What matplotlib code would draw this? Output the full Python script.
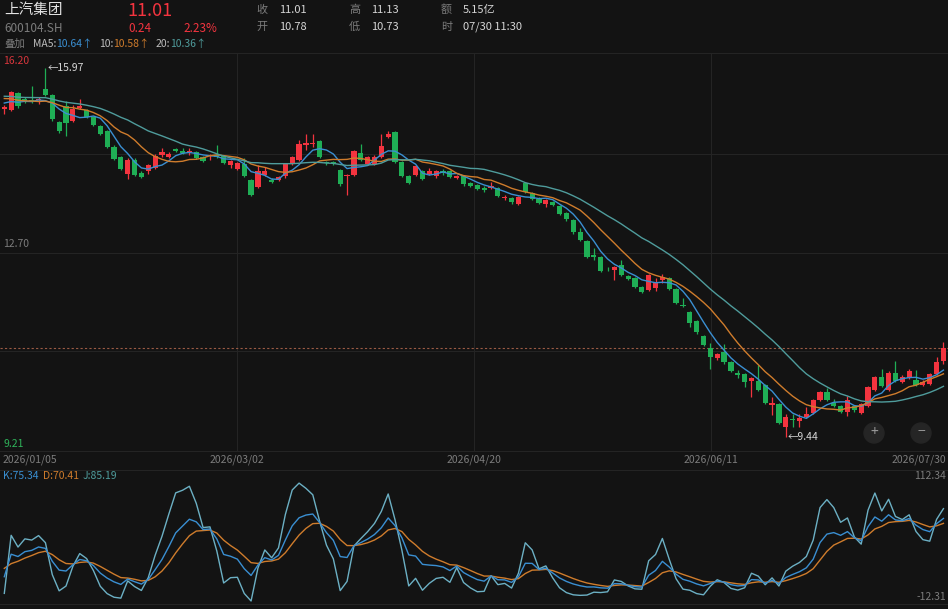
import matplotlib
matplotlib.use("Agg")
import matplotlib.pyplot as plt
from matplotlib.lines import Line2D
from matplotlib.patches import Ellipse
import numpy as np
import pandas as pd

plt.rcParams['font.family'] = ['Noto Sans CJK SC', 'DejaVu Sans']

# sessions before the first shown one, only used to warm up MA and KDJ
warmup_close = [15.62, 15.55, 15.48, 15.40, 15.45, 15.52, 15.58, 15.50, 15.47, 15.53,
                15.60, 15.55, 15.48, 15.42, 15.50, 15.42, 15.35, 15.30, 15.40]
warmup_high = [15.70, 15.62, 15.55, 15.60, 15.55, 15.46, 15.42, 15.48]
warmup_low = [15.45, 15.40, 15.35, 15.38, 15.30, 15.22, 15.18, 15.25]
k_init, d_init = 10.7, 28.0

open_ = [15.24, 15.23, 15.52, 15.43, 15.41, 15.40, 15.59, 15.49, 15.01, 15.29,
         15.03, 15.26, 15.23, 15.10, 14.95, 14.86, 14.58, 14.39, 14.09, 14.35,
         14.12, 14.14, 14.20, 14.43, 14.40, 14.54, 14.50, 14.48, 14.48, 14.40,
         14.41, 14.43, 14.41, 14.25, 14.18, 14.27, 13.99, 13.87, 14.08, 13.99,
         13.99, 14.05, 14.27, 14.34, 14.61, 14.62, 14.68, 14.31, 14.30, 14.17,
         14.05, 14.08, 14.46, 14.27, 14.27, 14.39, 14.75, 14.83, 14.31, 14.06,
         14.08, 14.14, 14.09, 14.05, 14.14, 14.14, 14.03, 14.05, 13.93, 13.90,
         13.84, 13.84, 13.84, 13.67, 13.67, 13.56, 13.94, 13.75, 13.66, 13.56,
         13.60, 13.53, 13.40, 13.28, 13.07, 12.91, 12.66, 12.63, 12.40, 12.39,
         12.48, 12.29, 12.25, 12.09, 12.04, 12.07, 12.21, 12.25, 12.06, 11.78,
         11.65, 11.49, 11.23, 11.01, 10.83, 10.95, 10.77, 10.58, 10.56, 10.43,
         10.43, 10.36, 10.01, 10.02, 9.62, 9.76, 9.73, 9.80, 9.86, 10.10,
         10.24, 10.04, 9.98, 9.89, 9.99, 9.86, 9.99, 10.27, 10.50, 10.27,
         10.58, 10.42, 10.48, 10.45, 10.36, 10.38, 10.56, 10.78]

high = [15.32, 15.57, 15.54, 15.46, 15.66, 15.46, 15.97, 15.51, 15.04, 15.38,
        15.32, 15.43, 15.25, 15.12, 14.97, 14.88, 14.60, 14.41, 14.37, 14.37,
        14.14, 14.27, 14.44, 14.56, 14.48, 14.56, 14.56, 14.55, 14.50, 14.42,
        14.45, 14.60, 14.43, 14.35, 14.31, 14.37, 14.01, 14.25, 14.22, 14.03,
        14.06, 14.29, 14.42, 14.70, 14.81, 14.81, 14.70, 14.33, 14.33, 14.19,
        14.10, 14.52, 14.63, 14.41, 14.43, 14.81, 14.85, 14.85, 14.33, 14.08,
        14.25, 14.16, 14.20, 14.17, 14.19, 14.16, 14.08, 14.07, 13.96, 13.92,
        13.88, 13.96, 13.86, 13.72, 13.69, 13.70, 13.96, 13.77, 13.68, 13.65,
        13.62, 13.55, 13.42, 13.30, 13.14, 12.93, 12.78, 12.65, 12.44, 12.47,
        12.58, 12.31, 12.27, 12.12, 12.33, 12.25, 12.33, 12.27, 12.08, 11.90,
        11.67, 11.51, 11.25, 11.10, 10.92, 11.08, 10.79, 10.63, 10.58, 10.50,
        10.71, 10.38, 10.15, 10.04, 9.85, 9.85, 9.85, 9.97, 10.11, 10.26,
        10.30, 10.12, 10.00, 10.16, 10.01, 10.04, 10.34, 10.52, 10.64, 10.60,
        10.79, 10.53, 10.65, 10.62, 10.44, 10.58, 10.85, 11.13]

low = [15.15, 15.21, 15.27, 15.35, 15.35, 15.33, 15.47, 15.03, 14.82, 14.76,
       15.01, 15.24, 15.09, 14.94, 14.78, 14.55, 14.34, 14.17, 14.01, 14.05,
       14.02, 14.10, 14.18, 14.39, 14.37, 14.48, 14.44, 14.43, 14.36, 14.30,
       14.34, 14.38, 14.27, 14.20, 14.16, 14.04, 13.70, 13.85, 14.05, 13.93,
       13.97, 14.03, 14.25, 14.32, 14.52, 14.58, 14.38, 14.26, 14.26, 13.89,
       13.72, 14.06, 14.32, 14.25, 14.25, 14.37, 14.73, 14.29, 14.04, 13.91,
       14.06, 13.99, 14.07, 14.03, 14.08, 14.02, 14.01, 13.89, 13.86, 13.81,
       13.78, 13.82, 13.68, 13.63, 13.57, 13.54, 13.76, 13.64, 13.56, 13.51,
       13.53, 13.37, 13.27, 13.04, 12.91, 12.61, 12.58, 12.36, 12.37, 12.22,
       12.29, 12.21, 12.08, 11.98, 12.02, 12.02, 12.16, 12.04, 11.79, 11.74,
       11.39, 11.27, 11.05, 10.64, 10.80, 10.74, 10.59, 10.49, 10.33, 10.15,
       10.25, 10.03, 9.83, 9.67, 9.44, 9.61, 9.62, 9.78, 9.84, 10.08,
       10.08, 9.97, 9.87, 9.81, 9.89, 9.84, 9.97, 10.25, 10.32, 10.25,
       10.41, 10.40, 10.46, 10.34, 10.34, 10.36, 10.54, 10.73]

close = [15.28, 15.55, 15.29, 15.38, 15.38, 15.42, 15.49, 15.07, 14.86, 14.99,
         15.25, 15.29, 15.11, 14.96, 14.80, 14.58, 14.36, 14.19, 14.35, 14.07,
         14.04, 14.25, 14.42, 14.48, 14.44, 14.50, 14.46, 14.50, 14.38, 14.32,
         14.43, 14.40, 14.29, 14.33, 14.28, 14.06, 13.72, 14.14, 14.15, 13.95,
         14.04, 14.27, 14.40, 14.63, 14.64, 14.64, 14.40, 14.28, 14.28, 13.91,
         14.08, 14.50, 14.34, 14.39, 14.39, 14.59, 14.81, 14.31, 14.06, 13.93,
         14.23, 14.01, 14.15, 14.15, 14.12, 14.04, 14.06, 13.91, 13.89, 13.83,
         13.81, 13.89, 13.70, 13.69, 13.59, 13.68, 13.78, 13.66, 13.58, 13.63,
         13.55, 13.39, 13.29, 13.06, 12.93, 12.63, 12.63, 12.38, 12.39, 12.45,
         12.31, 12.24, 12.10, 12.01, 12.31, 12.19, 12.28, 12.06, 11.81, 11.75,
         11.45, 11.29, 11.07, 10.86, 10.90, 10.76, 10.61, 10.53, 10.42, 10.48,
         10.27, 10.05, 10.04, 9.69, 9.80, 9.74, 9.77, 9.85, 10.09, 10.24,
         10.10, 9.99, 9.89, 10.09, 9.91, 10.02, 10.32, 10.50, 10.34, 10.58,
         10.43, 10.51, 10.60, 10.36, 10.42, 10.56, 10.77, 11.01]

date_labels = ["2026/01/05", "2026/03/02", "2026/04/20", "2026/06/11", "2026/07/30"]
price_labels = ["16.20", "12.70", "9.21"]
price_top, price_bottom = 16.20, 9.21
kdj_top, kdj_bottom = 112.34, -12.31
ma_periods = [5, 10, 20]
ma_last = ["10.64", "10.58", "10.36"]
kdj_last = ["75.34", "70.41", "85.19"]

BG = "#131313"
GRID = "#242424"
RED = "#f3343f"
GREEN = "#1fae55"
BLUE = "#3a8fd2"
ORANGE = "#cf7c2c"
TEAL = "#4f9c9c"
JCOL = "#6cb0c4"
GRAY = "#7c7c7c"
LIGHT = "#d6d6d6"

W, H = 948, 609
x0, step = 4.3, 6.855   # pixel centre of first candle, pixels per session

n = len(close)
idx = np.arange(n)
nw = len(warmup_high)

full = pd.Series(warmup_close + close)
ma = {p: full.rolling(p).mean().to_numpy()[len(warmup_close):] for p in ma_periods}

hh = pd.Series(warmup_high + high).rolling(9, min_periods=1).max().to_numpy()[nw:]
ll = pd.Series(warmup_low + low).rolling(9, min_periods=1).min().to_numpy()[nw:]
rsv = (np.array(close) - ll) / (hh - ll) * 100
k_line, d_line = [], []
k, d = k_init, d_init
for r in rsv:
    k = 2 / 3 * k + r / 3
    d = 2 / 3 * d + k / 3
    k_line.append(k)
    d_line.append(d)
k_line = np.array(k_line)
d_line = np.array(d_line)
j_line = 3 * k_line - 2 * d_line

fig = plt.figure(figsize=(W / 100, H / 100), dpi=100, facecolor=BG)
renderer = fig.canvas.get_renderer()


def box(top, bottom):
    return [0, 1 - bottom / H, 1, (bottom - top) / H]


def put(x, y, s, color, size, ha="left"):
    return fig.text(x / W, 1 - y / H, s, color=color, fontsize=size, ha=ha, va="center")


def put_run(x, y, pieces, size):
    # pieces: (text, colour, gap in px after it)
    for s, col, gap in pieces:
        t = put(x, y, s, col, size)
        x = t.get_window_extent(renderer).x1 + gap


def hline(y, color=GRID):
    fig.add_artist(Line2D([0, 1], [1 - y / H] * 2, color=color, lw=0.8,
                          transform=fig.transFigure))


xlim = (-x0 / step, (W - x0) / step)

# main price panel
ax = fig.add_axes(box(55, 450))
ax.set_facecolor(BG)
ax.set_xlim(*xlim)
ax.set_ylim(price_bottom, price_top)
ax.axis("off")

for level in np.linspace(price_bottom, price_top, 5)[1:4]:
    ax.axhline(level, color=GRID, lw=0.8, zorder=0)
for q in (0.25, 0.5, 0.75):
    ax.plot([q, q], [0, 1.006], transform=ax.transAxes, color=GRID, lw=0.8,
            zorder=0, clip_on=False)

o = np.array(open_)
c = np.array(close)
colors = np.where(c >= o, RED, GREEN)
ax.vlines(idx, low, high, colors=colors, lw=0.9, zorder=2)
body = np.maximum(np.abs(c - o), 0.014)
ax.bar(idx, body, bottom=np.minimum(o, c), width=0.76, color=colors,
       linewidth=0, zorder=3)

for p, col in zip(ma_periods, [BLUE, ORANGE, TEAL]):
    ax.plot(idx, ma[p], color=col, lw=1.0, zorder=4)

ax.axhline(close[-1], color="#9a5a44", lw=0.8, ls=(0, (2, 2)), zorder=1)

i_hi = int(np.argmax(high))
i_lo = int(np.argmin(low))
ax.annotate(f"←{high[i_hi]:.2f}", xy=(i_hi, high[i_hi]), xytext=(1.5, 0),
            textcoords="offset points", color=LIGHT, fontsize=7.5, va="center")
ax.annotate(f"←{low[i_lo]:.2f}", xy=(i_lo, low[i_lo]), xytext=(1.5, 0),
            textcoords="offset points", color=LIGHT, fontsize=7.5, va="center")

put(3, 61, price_labels[0], "#d8363c", 7.5)
put(3, 244, price_labels[1], GRAY, 7.5)
put(3, 444, price_labels[2], "#2fb35a", 7.5)

# zoom buttons
for bx, sym in [(874, "+"), (921, "−")]:
    fig.add_artist(Ellipse((bx / W, 1 - 433 / H), 20 / W, 20 / H,
                           color="#252525", transform=fig.transFigure))
    put(bx, 432, sym, "#9a9a9a", 10, ha="center")

# KDJ panel
kx = fig.add_axes(box(470, 604))
kx.set_facecolor(BG)
kx.set_xlim(*xlim)
span = (kdj_top - kdj_bottom) / 120
kx.set_ylim(kdj_bottom - 1 * span, kdj_top + 13 * span)
kx.axis("off")
kx.plot(idx, j_line, color=JCOL, lw=1.0)
kx.plot(idx, d_line, color=ORANGE, lw=1.0)
kx.plot(idx, k_line, color=BLUE, lw=1.0)

# frame lines
hline(53)
hline(450.5)
hline(469.5)
hline(604)

# header
put(4, 10, "上汽集团", "#e4e4e4", 10.5)
put(4, 28, "600104.SH", GRAY, 8.5)
put(127, 11, f"{close[-1]:.2f}", RED, 13)
put(128, 28, f"{close[-1] - close[-2]:.2f}", RED, 8.5)
put(183, 28, f"{(close[-1] - close[-2]) / close[-2] * 100:.2f}%", RED, 8.5)

put(256, 10, "收", GRAY, 8)
put(279, 10, f"{close[-1]:.2f}", LIGHT, 8)
put(256, 27, "开", GRAY, 8)
put(279, 27, f"{open_[-1]:.2f}", LIGHT, 8)
put(349, 10, "高", GRAY, 8)
put(371, 10, f"{high[-1]:.2f}", LIGHT, 8)
put(349, 27, "低", GRAY, 8)
put(371, 27, f"{low[-1]:.2f}", LIGHT, 8)
put(441, 10, "额", GRAY, 8)
put(463, 10, "5.15亿", LIGHT, 8)
put(441, 27, "时", GRAY, 8)
put(463, 27, "07/30 11:30", LIGHT, 8)

put(4, 44, "叠加", GRAY, 7.5)
put_run(33, 44, [("MA5:", "#bdbdbd", 0), (ma_last[0] + "↑", BLUE, 6),
                 ("10:", "#bdbdbd", 0), (ma_last[1] + "↑", ORANGE, 6),
                 ("20:", "#bdbdbd", 0), (ma_last[2] + "↑", TEAL, 0)], 7.5)

# date row
for q, label in zip([0, 0.25, 0.5, 0.75, 1], date_labels):
    ha = "left" if q == 0 else ("right" if q == 1 else "center")
    xpix = 3 if q == 0 else (W - 2 if q == 1 else q * W)
    put(xpix, 460, label, GRAY, 7.5, ha=ha)

# KDJ header and scale
put_run(3, 476, [("K:" + kdj_last[0], BLUE, 4), ("D:" + kdj_last[1], ORANGE, 4),
                 ("J:" + kdj_last[2], TEAL, 0)], 7.5)
put(W - 2, 476, f"{kdj_top:.2f}", GRAY, 7.5, ha="right")
put(W - 2, 597, f"{kdj_bottom:.2f}", GRAY, 7.5, ha="right")

fig.savefig("out.png", dpi=100, facecolor=BG)
plt.close(fig)
